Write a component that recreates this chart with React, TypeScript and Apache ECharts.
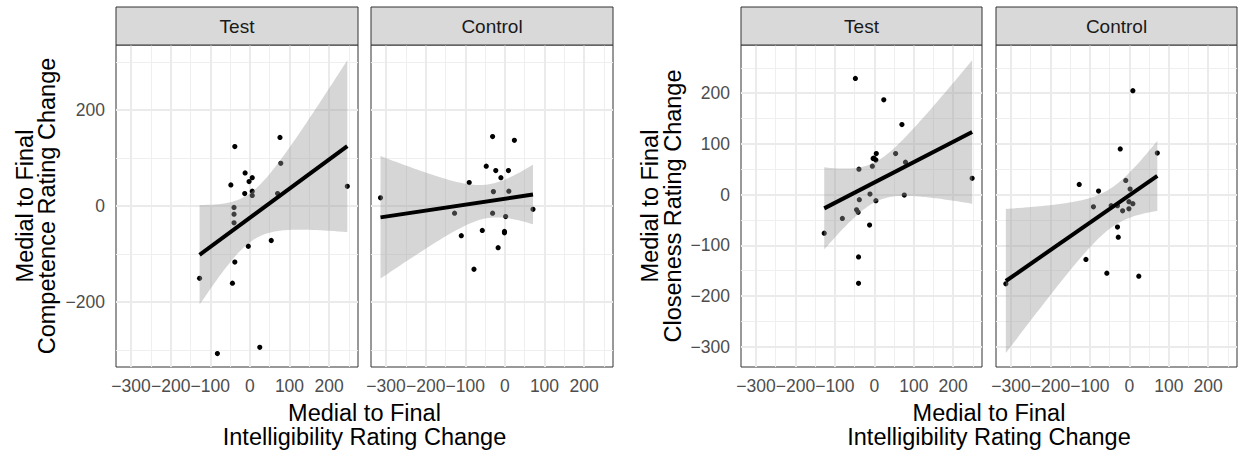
import React, { useEffect, useRef } from "react";
import * as echarts from "echarts";

// ---- tick values ----
const xTicks = [-300, -200, -100, 0, 100, 200];
const xMinor = [-250, -150, -50, 50, 150, 250];
const compYTicks = [-200, 0, 200];
const compYMinor = [-300, -100, 100, 300];
const closeYTicks = [-300, -200, -100, 0, 100, 200];
const closeYMinor = [-250, -150, -50, 50, 150, 250];

const facetNames = ["Test", "Control"];

// ---- data: Competence ----
const compTestX = [-38, 76, 78, -12, -48, -2, 6, -13, 6, 6, 70, 246, -40, -40, -40, 54, -4, -38, -127, -44, -82, 25];
const compTestY = [124, 143, 89, 69, 44, 51, 59, 26, 31, 22, 26, 41, -3, -17, -35, -72, -84, -117, -151, -161, -308, -295];
const compCtrlX = [-314, -31, 24, -47, -23, 9, -10, -90, -29, 10, -127, -31, 2, 71, -57, -1, -1, -110, -17, -78];
const compCtrlY = [17, 145, 137, 83, 74, 74, 59, 49, 30, 31, -15, -15, -22, -7, -51, -53, -56, -62, -87, -132];

// ---- data: Closeness ----
const closeTestX = [-48, 24, 70, 5, -1, -3, 4, 54, 79, -39, -5, 248, -11, -38, 4, 76, -45, -41, -81, -12, -127, -40, -40];
const closeTestY = [229, 187, 138, 81, 72, 71, 68, 81, 64, 50, 56, 32, 1, -10, -12, -1, -30, -35, -47, -60, -76, -123, -175];
const closeCtrlX = [9, -23, 71, -9, -127, -78, 2, -1, 9, -91, -46, -30, -17, -1, -30, -28, -110, -57, 24, -313];
const closeCtrlY = [205, 90, 82, 28, 20, 7, 11, -14, -18, -24, -22, -22, -32, -28, -64, -84, -128, -155, -161, -176];

const FONT = "'Liberation Sans', Arial, Helvetica, sans-serif";

const fmtTick = (v: number) => String(v).replace("-", "\u2212");

function tQuantile975(df: number): number {
  const z = 1.959964;
  const z3 = z * z * z, z5 = z3 * z * z, z7 = z5 * z * z;
  return (
    z +
    (z3 + z) / (4 * df) +
    (5 * z5 + 16 * z3 + 3 * z) / (96 * df * df) +
    (3 * z7 + 19 * z5 + 17 * z3 - 15 * z) / (384 * df * df * df)
  );
}

function fitLm(xs: number[], ys: number[]) {
  const n = xs.length;
  const mx = xs.reduce((a, b) => a + b, 0) / n;
  const my = ys.reduce((a, b) => a + b, 0) / n;
  let sxx = 0, sxy = 0, syy = 0;
  for (let i = 0; i < n; i++) {
    sxx += (xs[i] - mx) ** 2;
    sxy += (xs[i] - mx) * (ys[i] - my);
    syy += (ys[i] - my) ** 2;
  }
  const b = sxy / sxx;
  const a = my - b * mx;
  const s = Math.sqrt((syy - b * sxy) / (n - 2));
  const t = tQuantile975(n - 2);
  const xmin = Math.min(...xs), xmax = Math.max(...xs);
  const band: number[][] = [];
  const N = 80;
  for (let i = 0; i < N; i++) {
    const x = xmin + ((xmax - xmin) * i) / (N - 1);
    const yh = a + b * x;
    const se = s * Math.sqrt(1 / n + (x - mx) ** 2 / sxx);
    band.push([x, yh - t * se, yh + t * se]);
  }
  const line = [[xmin, a + b * xmin], [xmax, a + b * xmax]];
  return { band, line };
}

const TOP = 45;
const HEIGHT = 322;
const X_MIN = -338, X_MAX = 273;

const panels = [
  { xs: compTestX, ys: compTestY, left: 116, width: 242, yMin: -336, yMax: 336, yTicks: compYTicks, yMinor: compYMinor, showY: true, strip: facetNames[0] },
  { xs: compCtrlX, ys: compCtrlY, left: 371, width: 242, yMin: -336, yMax: 336, yTicks: compYTicks, yMinor: compYMinor, showY: false, strip: facetNames[1] },
  { xs: closeTestX, ys: closeTestY, left: 741, width: 241, yMin: -340, yMax: 295, yTicks: closeYTicks, yMinor: closeYMinor, showY: true, strip: facetNames[0] },
  { xs: closeCtrlX, ys: closeCtrlY, left: 996, width: 241, yMin: -340, yMax: 295, yTicks: closeYTicks, yMinor: closeYMinor, showY: false, strip: facetNames[1] },
];

export default function App() {
  const ref = useRef<HTMLDivElement>(null);
  useEffect(() => {
    document.body.style.margin = "0";
    if (!ref.current) return;
    const chart = echarts.init(ref.current, undefined, { renderer: "svg" });

    const grids: any[] = [];
    const xAxes: any[] = [];
    const yAxes: any[] = [];
    const series: any[] = [];
    const graphics: any[] = [];

    const majorStyle = { color: "#EBEBEB", width: 2, type: "solid" };
    const minorStyle = { color: "#EFEFEF", width: 1, type: "solid" };

    panels.forEach((p, i) => {
      const fit = fitLm(p.xs, p.ys);
      grids.push({
        left: p.left, top: TOP, width: p.width, height: HEIGHT,
        show: true, borderColor: "#333333", borderWidth: 1, backgroundColor: "#FFFFFF",
        containLabel: false, outerBoundsMode: "none",
      });
      xAxes.push({
        type: "value", gridIndex: i, min: X_MIN, max: X_MAX,
        axisLine: { show: false },
        splitLine: { show: false },
        axisTick: { show: true, length: 5.5, lineStyle: { color: "#333333", width: 1 }, customValues: xTicks },
        axisLabel: { show: true, customValues: xTicks, formatter: fmtTick, margin: 9.5, fontSize: 17.5, color: "#4D4D4D", fontFamily: FONT },
      });
      yAxes.push({
        type: "value", gridIndex: i, min: p.yMin, max: p.yMax,
        axisLine: { show: false },
        splitLine: { show: false },
        axisTick: { show: p.showY, length: 5.5, lineStyle: { color: "#333333", width: 1 }, customValues: p.yTicks },
        axisLabel: { show: p.showY, customValues: p.yTicks, formatter: fmtTick, margin: 11, fontSize: 17.5, color: "#4D4D4D", fontFamily: FONT },
      });

      const mlData: any[] = [];
      xMinor.forEach((v) => mlData.push({ xAxis: v, lineStyle: minorStyle }));
      p.yMinor.forEach((v) => mlData.push({ yAxis: v, lineStyle: minorStyle }));
      xTicks.forEach((v) => mlData.push({ xAxis: v, lineStyle: majorStyle }));
      p.yTicks.forEach((v) => mlData.push({ yAxis: v, lineStyle: majorStyle }));

      series.push({
        type: "line", xAxisIndex: i, yAxisIndex: i, z: 1,
        data: fit.line, showSymbol: false, symbol: "none",
        lineStyle: { opacity: 0 }, silent: true,
        markLine: {
          silent: true, z: 1, symbol: ["none", "none"], label: { show: false },
          emphasis: { disabled: true }, animation: false, data: mlData,
        },
      });
      series.push({
        type: "scatter", xAxisIndex: i, yAxisIndex: i, z: 2,
        data: p.xs.map((x, k) => [x, p.ys[k]]),
        symbolSize: 5.2, itemStyle: { color: "#000000", opacity: 1 }, silent: true,
      });
      const band = fit.band;
      series.push({
        type: "custom", xAxisIndex: i, yAxisIndex: i, z: 3, silent: true,
        data: band, encode: { x: 0, y: [1, 2] },
        renderItem: (params: any, api: any) => {
          if (params.dataIndex !== 0) return null;
          const upper = band.map((r) => api.coord([r[0], r[2]]));
          const lower = band.slice().reverse().map((r) => api.coord([r[0], r[1]]));
          return {
            type: "polygon",
            shape: { points: upper.concat(lower) },
            style: { fill: "rgba(153,153,153,0.4)", stroke: "none" },
          };
        },
      });
      series.push({
        type: "line", xAxisIndex: i, yAxisIndex: i, z: 4,
        data: fit.line, showSymbol: false, symbol: "none", silent: true,
        lineStyle: { color: "#000000", width: 4 },
      });

      graphics.push({
        type: "rect", z: 10,
        shape: { x: p.left, y: 7, width: p.width, height: TOP - 7 },
        style: { fill: "#D9D9D9", stroke: "#333333", lineWidth: 1 },
      });
      graphics.push({
        type: "text", z: 11,
        x: p.left + p.width / 2, y: (7 + TOP) / 2,
        style: { text: p.strip, fill: "#1A1A1A", fontSize: 19, fontFamily: FONT, align: "center", verticalAlign: "middle" },
      });
    });

    const titleStyle = (text: string) => ({ text, fill: "#000000", fontSize: 23.5, fontFamily: FONT, align: "center", verticalAlign: "middle" });
    // x-axis titles
    graphics.push({ type: "text", x: 364.5, y: 413, style: titleStyle("Medial to Final") });
    graphics.push({ type: "text", x: 364.5, y: 437, style: titleStyle("Intelligibility Rating Change") });
    graphics.push({ type: "text", x: 989, y: 413, style: titleStyle("Medial to Final") });
    graphics.push({ type: "text", x: 989, y: 437, style: titleStyle("Intelligibility Rating Change") });
    // y-axis titles
    graphics.push({ type: "text", x: 25, y: 206, rotation: Math.PI / 2, style: titleStyle("Medial to Final") });
    graphics.push({ type: "text", x: 47, y: 206, rotation: Math.PI / 2, style: titleStyle("Competence Rating Change") });
    graphics.push({ type: "text", x: 650, y: 206, rotation: Math.PI / 2, style: titleStyle("Medial to Final") });
    graphics.push({ type: "text", x: 672.5, y: 206, rotation: Math.PI / 2, style: titleStyle("Closeness Rating Change") });

    chart.setOption({
      animation: false,
      backgroundColor: "#FFFFFF",
      grid: grids,
      xAxis: xAxes,
      yAxis: yAxes,
      series,
      graphic: graphics,
    });
    return () => chart.dispose();
  }, []);
  return <div ref={ref} style={{ width: 1238, height: 455 }} />;
}
